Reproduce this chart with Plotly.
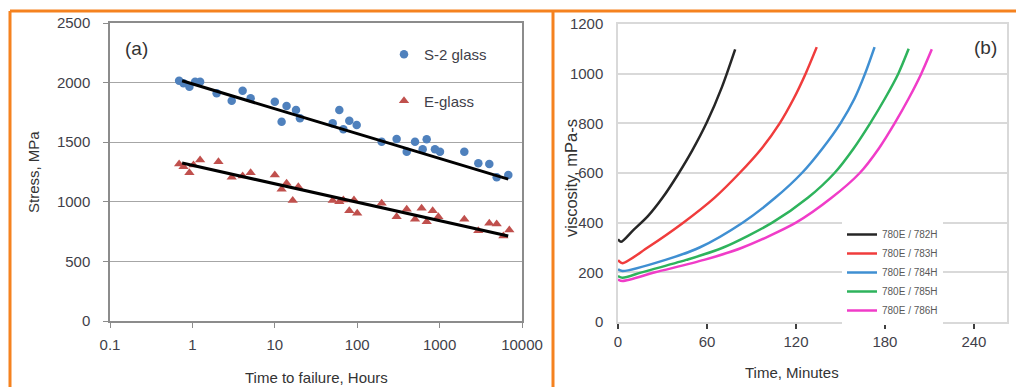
import plotly.graph_objects as go

W, H = 1016, 387

# ---------------- Panel (a): stress vs time to failure ----------------
s2_hours = [0.69, 0.78, 0.92, 1.08, 1.24, 1.97, 3.0, 4.07, 5.09, 10.0, 12.1, 13.9,
            18.1, 20.2, 50.4, 60.7, 67.9, 80.2, 98.6, 198, 301, 399, 503, 623,
            697, 879, 1011, 1995, 2951, 4010, 4930, 6820]
s2_stress = [2016, 1994, 1966, 2008, 2008, 1910, 1848, 1932, 1868, 1840, 1672, 1804,
             1770, 1700, 1658, 1770, 1608, 1680, 1644, 1504, 1527, 1420, 1504, 1440,
             1524, 1440, 1420, 1420, 1323, 1317, 1205, 1225]

e_hours = [0.69, 0.78, 0.92, 1.03, 1.24, 2.07, 3.0, 4.07, 5.09, 10.0, 12.1, 13.9,
           16.5, 19.3, 50.4, 60.7, 67.9, 80.2, 91.4, 100, 198, 301, 399, 503,
           605, 697, 824, 966, 1995, 2951, 4010, 4930, 5940, 7020]
e_stress = [1317, 1295, 1244, 1309, 1351, 1337, 1205, 1216, 1244, 1225, 1105, 1155,
            1010, 1127, 1010, 1001, 1015, 925, 1015, 903, 987, 875, 937, 853,
            945, 833, 925, 875, 853, 758, 820, 814, 713, 763]

trend_hours = [0.75, 6800]
s2_trend = [2015, 1190]
e_trend = [1325, 713]

x_a_ticks = [0.1, 1, 10, 100, 1000, 10000]
x_a_text = ["0.1", "1", "10", "100", "1000", "10000"]

# ---------------- Panel (b): viscosity vs time ----------------
black_t = [0, 2, 10, 20, 30, 40, 50, 60, 70, 79]
black_v = [333, 323, 368, 425, 500, 590, 690, 805, 945, 1098]
red_t = [0, 3, 20, 44, 65, 82, 97, 109, 118.5, 126.5, 134]
red_v = [249, 237, 300, 400, 500, 600, 700, 800, 900, 1000, 1107]
blue_t = [0, 3, 32, 55, 84, 106, 124, 138, 150, 159.5, 166.6, 173]
blue_v = [212, 205, 250, 300, 400, 500, 600, 700, 800, 900, 1000, 1107]
green_t = [0, 3, 16, 46, 71, 104, 128, 146, 159, 170, 180, 189, 196]
green_v = [185, 178, 200, 250, 300, 400, 500, 600, 700, 800, 900, 1000, 1100]
mag_t = [0, 3, 25, 58, 84, 120, 144, 163, 176, 186.5, 196, 204.5, 211.6]
mag_v = [171, 165, 200, 250, 300, 400, 500, 600, 700, 800, 900, 1000, 1098]

curve_names = ["780E / 782H", "780E / 783H", "780E / 784H", "780E / 785H", "780E / 786H"]
curve_colors = ["#262626", "#F03C3C", "#3F8FD2", "#2EB35C", "#F03CC8"]
curves_t = [black_t, red_t, blue_t, green_t, mag_t]
curves_v = [black_v, red_v, blue_v, green_v, mag_v]


def px_x(p):
    return p / W


def px_y(p):
    return 1 - p / H


FONT = "Liberation Sans, Arial, sans-serif"
TXT = "#3F3F4A"

fig = go.Figure()

fig.add_trace(go.Scatter(x=s2_hours, y=s2_stress, mode="markers", name="S-2 glass",
                         marker=dict(color="#4F81BD", size=8.5, symbol="circle"),
                         xaxis="x", yaxis="y", legend="legend", legendgroup="s2"))
fig.add_trace(go.Scatter(x=e_hours, y=e_stress, mode="markers", name="E-glass",
                         marker=dict(color="#C0504D", size=9, symbol="triangle-up"),
                         xaxis="x", yaxis="y", legend="legend", legendgroup="e"))
fig.add_trace(go.Scatter(x=trend_hours, y=s2_trend, mode="lines", showlegend=False,
                         line=dict(color="black", width=3), xaxis="x", yaxis="y"))
fig.add_trace(go.Scatter(x=trend_hours, y=e_trend, mode="lines", showlegend=False,
                         line=dict(color="black", width=3), xaxis="x", yaxis="y"))

for name, col, t, v in zip(curve_names, curve_colors, curves_t, curves_v):
    fig.add_trace(go.Scatter(x=t, y=v, mode="lines", name=name,
                             line=dict(color=col, width=2.5, shape="spline", smoothing=0.8),
                             xaxis="x2", yaxis="y2", legend="legend2"))

fig.update_layout(
    template="none",
    width=W, height=H, autosize=False,
    margin=dict(l=0, r=0, t=0, b=0, pad=0, autoexpand=False),
    paper_bgcolor="white", plot_bgcolor="white",
    font=dict(family=FONT, color=TXT),
    xaxis=dict(type="log", range=[-1, 4], domain=[px_x(110), px_x(522)], anchor="y",
               tickvals=x_a_ticks, ticktext=x_a_text, ticks="outside", ticklen=5,
               tickcolor="#8C8C8C", showline=True, mirror=True, linecolor="#8C8C8C",
               linewidth=1.5, showgrid=False, zeroline=False, automargin=False,
               tickfont=dict(size=15, color=TXT, family=FONT), ticklabelstandoff=4),
    yaxis=dict(range=[0, 2500], domain=[px_y(321), px_y(23)], anchor="x",
               dtick=500, tick0=0, ticks="outside", ticklen=5, tickcolor="#8C8C8C",
               showline=True, mirror=True, linecolor="#8C8C8C", linewidth=1.5,
               showgrid=True, gridcolor="#A6A6A6", gridwidth=1, zeroline=False,
               automargin=False,
               tickfont=dict(size=15, color=TXT, family=FONT), ticklabelstandoff=10),
    xaxis2=dict(range=[0, 262.3], domain=[px_x(618), px_x(1007)], anchor="y2",
                tickvals=[0, 60, 120, 180, 240], ticks="outside", ticklen=5,
                tickcolor="#404040", tickwidth=1.5, showline=True, mirror=True,
                linecolor="#D9D9D9", linewidth=1.5, showgrid=False, zeroline=False,
                automargin=False,
                tickfont=dict(size=15, color=TXT, family=FONT), ticklabelstandoff=0),
    yaxis2=dict(range=[0, 1200], domain=[px_y(322), px_y(24)], anchor="x2",
                dtick=200, tick0=0, ticks="", showline=True, mirror=True,
                linecolor="#D9D9D9", linewidth=1.5, showgrid=True, gridcolor="#D9D9D9",
                gridwidth=1.5, zeroline=False, automargin=False,
                tickfont=dict(size=15, color=TXT, family=FONT), ticklabelstandoff=10),
    legend=dict(x=px_x(384), y=px_y(38), xanchor="left", yanchor="top",
                bgcolor="rgba(255,255,255,0)", font=dict(size=15, color=TXT, family=FONT),
                tracegroupgap=24, itemwidth=30, borderwidth=0),
    legend2=dict(x=px_x(842), y=px_y(220), xanchor="left", yanchor="top",
                 bgcolor="white", font=dict(size=10, color="#595959", family=FONT),
                 tracegroupgap=0, itemwidth=30, borderwidth=0),
    showlegend=True,
)

ORANGE = "#F5821F"
shapes = [
    dict(type="line", xref="paper", yref="paper", x0=px_x(10), x1=1.0, y0=px_y(11), y1=px_y(11),
         line=dict(color=ORANGE, width=3)),
    dict(type="line", xref="paper", yref="paper", x0=px_x(10), x1=px_x(10), y0=px_y(11), y1=0,
         line=dict(color=ORANGE, width=3)),
    dict(type="line", xref="paper", yref="paper", x0=px_x(553), x1=px_x(553), y0=px_y(11), y1=0,
         line=dict(color=ORANGE, width=3)),
]
fig.update_layout(shapes=shapes)

annotations = [
    dict(text="(a)", x=px_x(136), y=px_y(48), font=dict(size=19, color="#333333")),
    dict(text="(b)", x=px_x(985), y=px_y(47), font=dict(size=19, color="#333333")),
    dict(text="Time to failure, Hours", x=px_x(316), y=px_y(377), font=dict(size=15, color="#333333")),
    dict(text="Stress, MPa", x=px_x(33), y=px_y(172), textangle=-90, font=dict(size=15, color="#333333")),
    dict(text="Time, Minutes", x=px_x(792), y=px_y(372), font=dict(size=15, color="#333333")),
    dict(text="viscosity, mPa-s", x=px_x(571), y=px_y(178), textangle=-90, font=dict(size=16.5, color="#333333")),
]
for a in annotations:
    a.update(xref="paper", yref="paper", showarrow=False, xanchor="center", yanchor="middle")
    a["font"]["family"] = FONT
fig.update_layout(annotations=annotations)

fig.write_html("out.html",
               config={"displayModeBar": False},
               post_script="document.body.style.margin='0px';document.body.style.overflow='hidden';")
